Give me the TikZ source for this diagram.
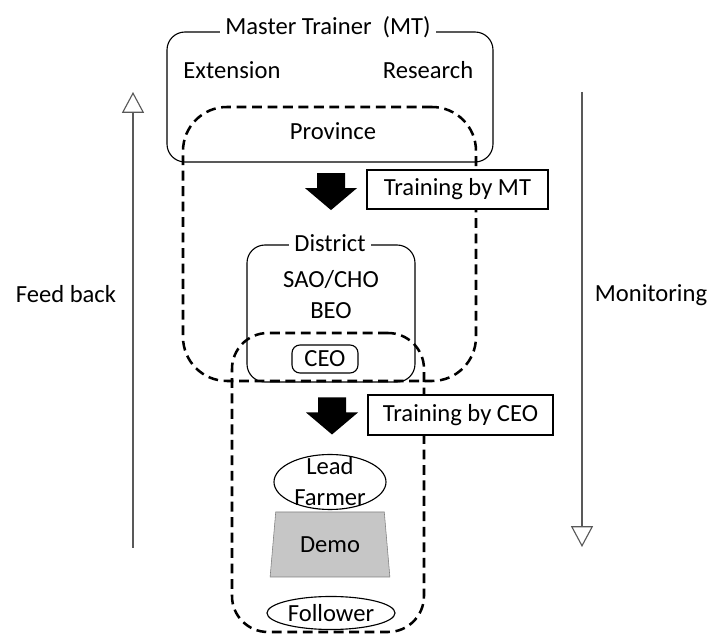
\documentclass[tikz,border=0pt]{standalone}
\usepackage{fontspec}
\setmainfont{Carlito}
\usetikzlibrary{shapes.geometric,arrows.meta}

\begin{document}
\begin{tikzpicture}[
    box/.style={
        draw,
        rounded corners=0.45cm,
        line width=0.8pt,
        inner sep=0pt
    },
    zone/.style={
        draw,
        dash pattern=on 7pt off 4pt,
        line width=1.8pt,
        inner sep=0pt
    },
    title/.style={fill=white, inner xsep=4pt, inner ysep=1pt},
    tag/.style={draw, fill=white, line width=1.3pt, inner sep=0pt},
    oval/.style={ellipse, draw, line width=0.8pt, inner sep=0pt},
    blockdown/.pic={
        \fill (-0.35,0.4625) -- (0.35,0.4625) -- (0.35,0.0875) -- (0.65,0.0875)
              -- (0,-0.4625) -- (-0.65,0.0875) -- (-0.35,0.0875) -- cycle;
    },
    flow/.style={
        draw=black!65,
        line width=1.8pt,
        -{Triangle[open,fill=white,width=0.55cm,length=0.52cm,line width=0.8pt]}
    },
    every node/.style={font=\fontsize{17.5}{22}\selectfont}
]

\useasboundingbox (0,0) rectangle (17.8,-15.975);

% Master Trainer
\node[box,minimum width=8.15cm,minimum height=3.25cm] (mt) at (8.25,-2.425) {};
\node[title] (mttitle) at (8.2,-0.68) {Master Trainer~~(MT)};
\node (ext) at (5.8,-1.75) {Extension};
\node (res) at (10.7,-1.75) {Research};

% Province
\node[zone,rounded corners=1.1cm,minimum width=7.325cm,minimum height=6.85cm] (prov) at (8.2375,-6.1) {};
\node (provtext) at (8.325,-3.275) {Province};

\pic at (8.275,-4.79) {blockdown};
\node[tag,minimum width=4.525cm,minimum height=0.975cm] (trainmt) at (11.4375,-4.7375) {Training by MT};

% District
\node[box,minimum width=4.2cm,minimum height=3.425cm] (dist) at (8.275,-7.8375) {};
\node[title] (disttitle) at (8.25,-6.08) {District};
\node (sao) at (8.275,-6.975) {SAO/CHO};
\node (beo) at (8.275,-7.775) {BEO};
\node[box,rounded corners=0.2cm,minimum width=1.65cm,minimum height=0.7cm] (ceo) at (8.125,-8.975) {CEO};

% Village cluster
\node[zone,rounded corners=0.9cm,minimum width=4.8cm,minimum height=7.475cm] (vill) at (8.2,-12.0625) {};

\pic at (8.3,-10.4) {blockdown};
\node[tag,minimum width=4.625cm,minimum height=1.0cm] (trainceo) at (11.5125,-10.375) {Training by CEO};

\node[oval,minimum width=2.8cm,minimum height=1.375cm,
      label={[align=center]center:Lead\\Farmer}] (lead) at (8.25,-12.05) {};
\node[trapezium,trapezium stretches=true,
      trapezium left angle=79,trapezium right angle=79,
      draw=black!50,fill=gray!45,inner sep=0pt,
      minimum width=3cm,minimum height=1.625cm] (demo) at (8.25,-13.6125) {Demo};
\node[oval,minimum width=3.2cm,minimum height=0.825cm,
      label={center:Follower}] (fol) at (8.275,-15.325) {};

% Feed back / Monitoring
\coordinate (fbfrom) at (3.325,-13.7);
\coordinate (fbto) at (3.325,-2.3);
\coordinate (monfrom) at (14.55,-2.3);
\coordinate (monto) at (14.55,-13.675);

\draw[flow] (fbfrom) -- (fbto);
\draw[flow] (monfrom) -- (monto);

\node (fbtext) at (1.65,-7.35) {Feed back};
\node (montext) at (16.275,-7.375) {Monitoring};

\end{tikzpicture}
\end{document}
